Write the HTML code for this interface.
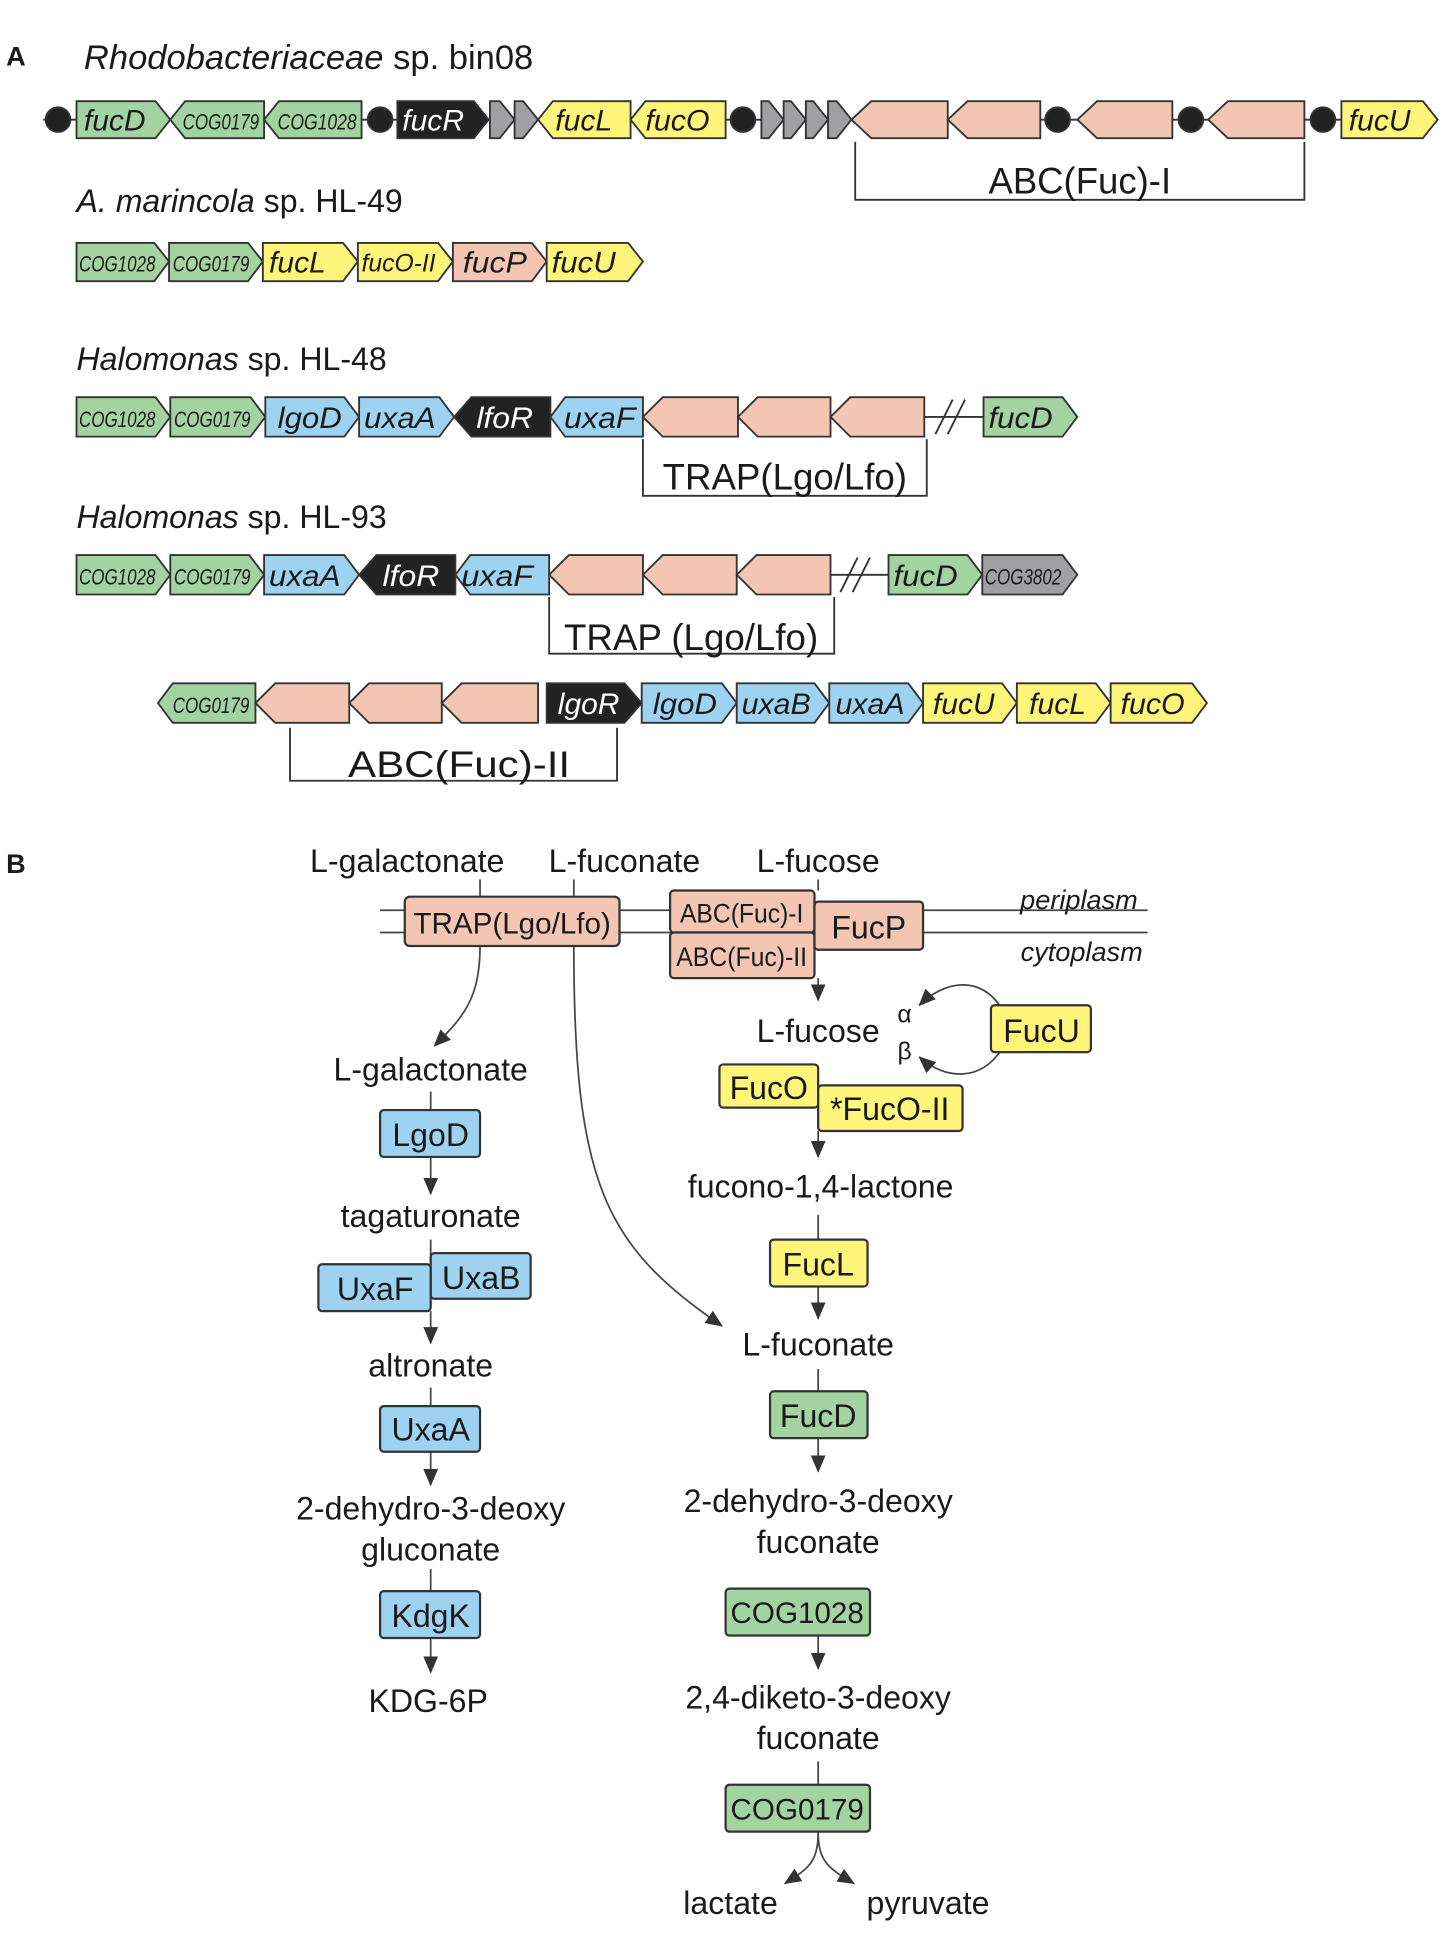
<!DOCTYPE html>
<html><head><meta charset="utf-8"><style>
html,body{margin:0;padding:0;background:#fff}
svg{display:block}
text{font-family:"Liberation Sans",sans-serif;fill:#1a1a1a}
.g{font-style:italic;font-size:24px}
.c{font-size:18px}
.t{font-size:26px}
</style></head><body>
<svg width="1450" height="1934" viewBox="0 0 1175 1568" preserveAspectRatio="none" xmlns="http://www.w3.org/2000/svg">
<defs><marker id="ah" viewBox="0 0 14 12" refX="13" refY="6" markerWidth="14" markerHeight="12" orient="auto" markerUnits="userSpaceOnUse"><path d="M0,0 L14,6 L0,12 z" fill="#333"/></marker></defs>
<g stroke="#333" stroke-width="1.5">
<line x1="35" y1="97" x2="1165" y2="97"/>
<g fill="#222"><circle cx="47" cy="97" r="10"/><circle cx="308" cy="97" r="10"/><circle cx="602" cy="97" r="10"/><circle cx="857" cy="97" r="10"/><circle cx="965" cy="97" r="10"/><circle cx="1072" cy="97" r="10"/></g>
<polygon fill="#a3d3a0" points="62,82 126,82 138,97 126,112 62,112"/>
<polygon fill="#a3d3a0" points="138,97 150,82 214,82 214,112 150,112"/>
<polygon fill="#a3d3a0" points="214,97 226,82 293,82 293,112 226,112"/>
<polygon fill="#222" points="322,82 384,82 396,97 384,112 322,112"/>
<polygon fill="#a0a0a4" points="397,82 405,82 417,97 405,112 397,112"/>
<polygon fill="#a0a0a4" points="417,82 424,82 436,97 424,112 417,112"/>
<polygon fill="#fff57a" points="436,97 448,82 511,82 511,112 448,112"/>
<polygon fill="#fff57a" points="511,97 523,82 588,82 588,112 523,112"/>
<polygon fill="#a0a0a4" points="617,82 623,82 635,97 623,112 617,112"/>
<polygon fill="#a0a0a4" points="635,82 641,82 653,97 641,112 635,112"/>
<polygon fill="#a0a0a4" points="653,82 659,82 671,97 659,112 653,112"/>
<polygon fill="#a0a0a4" points="671,82 678,82 690,97 678,112 671,112"/>
<polygon fill="#f2c6b2" points="690,97 706,82 768,82 768,112 706,112"/>
<polygon fill="#f2c6b2" points="768,97 784,82 843,82 843,112 784,112"/>
<polygon fill="#f2c6b2" points="873,97 889,82 950,82 950,112 889,112"/>
<polygon fill="#f2c6b2" points="979,97 995,82 1057,82 1057,112 995,112"/>
<polygon fill="#fff57a" points="1087,82 1153,82 1165,97 1153,112 1087,112"/>
<polyline fill="none" points="693,115 693,162 1057,162 1057,115"/>
<polygon fill="#a3d3a0" points="62,197 125,197 137,212 125,228 62,228"/>
<polygon fill="#a3d3a0" points="137,197 201,197 213,212 201,228 137,228"/>
<polygon fill="#fff57a" points="213,197 278,197 290,212 278,228 213,228"/>
<polygon fill="#fff57a" points="290,197 355,197 367,212 355,228 290,228"/>
<polygon fill="#f2c6b2" points="367,197 431,197 443,212 431,228 367,228"/>
<polygon fill="#fff57a" points="443,197 509,197 521,212 509,228 443,228"/>
<line x1="749" y1="338" x2="797" y2="338"/>
<line x1="758" y1="352" x2="772" y2="324"/><line x1="768" y1="352" x2="782" y2="324"/>
<polygon fill="#a3d3a0" points="62,322 126,322 138,338 126,354 62,354"/>
<polygon fill="#a3d3a0" points="138,322 203,322 215,338 203,354 138,354"/>
<polygon fill="#9dd3f0" points="215,322 279,322 291,338 279,354 215,354"/>
<polygon fill="#9dd3f0" points="291,322 356,322 368,338 356,354 291,354"/>
<polygon fill="#222" points="368,338 382,322 446,322 446,354 382,354"/>
<polygon fill="#9dd3f0" points="446,338 458,322 521,322 521,354 458,354"/>
<polygon fill="#f2c6b2" points="521,338 537,322 598,322 598,354 537,354"/>
<polygon fill="#f2c6b2" points="598,338 614,322 673,322 673,354 614,354"/>
<polygon fill="#f2c6b2" points="673,338 689,322 749,322 749,354 689,354"/>
<polygon fill="#a3d3a0" points="797,322 861,322 873,338 861,354 797,354"/>
<polyline fill="none" points="521,356 521,402 751,402 751,356"/>
<line x1="673" y1="466" x2="720" y2="466"/>
<line x1="681" y1="480" x2="695" y2="452"/><line x1="691" y1="480" x2="705" y2="452"/>
<polygon fill="#a3d3a0" points="62,450 126,450 138,466 126,482 62,482"/>
<polygon fill="#a3d3a0" points="138,450 202,450 214,466 202,482 138,482"/>
<polygon fill="#9dd3f0" points="214,450 279,450 291,466 279,482 214,482"/>
<polygon fill="#222" points="291,466 305,450 369,450 369,482 305,482"/>
<polygon fill="#9dd3f0" points="369,466 381,450 445,450 445,482 381,482"/>
<polygon fill="#f2c6b2" points="445,466 461,450 521,450 521,482 461,482"/>
<polygon fill="#f2c6b2" points="521,466 537,450 597,450 597,482 537,482"/>
<polygon fill="#f2c6b2" points="597,466 613,450 673,450 673,482 613,482"/>
<polygon fill="#a3d3a0" points="720,450 784,450 796,466 784,482 720,482"/>
<polygon fill="#a0a0a4" points="796,450 861,450 873,466 861,482 796,482"/>
<polyline fill="none" points="445,484 445,530 676,530 676,484"/>
<polygon fill="#a3d3a0" points="128,570 140,554 207,554 207,586 140,586"/>
<polygon fill="#f2c6b2" points="207,570 223,554 283,554 283,586 223,586"/>
<polygon fill="#f2c6b2" points="283,570 299,554 358,554 358,586 299,586"/>
<polygon fill="#f2c6b2" points="358,570 374,554 436,554 436,586 374,586"/>
<polygon fill="#222" points="443,554 506,554 520,570 506,586 443,586"/>
<polygon fill="#9dd3f0" points="520,554 585,554 597,570 585,586 520,586"/>
<polygon fill="#9dd3f0" points="597,554 660,554 672,570 660,586 597,586"/>
<polygon fill="#9dd3f0" points="672,554 736,554 748,570 736,586 672,586"/>
<polygon fill="#fff57a" points="748,554 812,554 824,570 812,586 748,586"/>
<polygon fill="#fff57a" points="824,554 888,554 900,570 888,586 824,586"/>
<polygon fill="#fff57a" points="900,554 966,554 978,570 966,586 900,586"/>
<polyline fill="none" points="235,590 235,633 500,633 500,590"/>
</g>
<text x="5" y="53" style="font-weight:bold;font-size:22px">A</text>
<text x="68" y="56" style="font-size:28px"><tspan font-style="italic">Rhodobacteriaceae</tspan> sp. bin08</text>
<text x="62" y="172" style="font-size:26px"><tspan font-style="italic">A. marincola</tspan> sp. HL-49</text>
<text x="62" y="300" style="font-size:26px"><tspan font-style="italic">Halomonas</tspan> sp. HL-48</text>
<text x="62" y="428" style="font-size:26px"><tspan font-style="italic">Halomonas</tspan> sp. HL-93</text>
<text x="875" y="157" text-anchor="middle" style="font-size:30px" textLength="148" lengthAdjust="spacingAndGlyphs">ABC(Fuc)-I</text>
<text x="636" y="397" text-anchor="middle" style="font-size:30px" textLength="198" lengthAdjust="spacingAndGlyphs">TRAP(Lgo/Lfo)</text>
<text x="560" y="527" text-anchor="middle" style="font-size:30px" textLength="206" lengthAdjust="spacingAndGlyphs">TRAP (Lgo/Lfo)</text>
<text x="372" y="630" text-anchor="middle" style="font-size:30px" textLength="180" lengthAdjust="spacingAndGlyphs">ABC(Fuc)-II</text>
<g class="g">
<text x="68" y="106" textLength="50" lengthAdjust="spacingAndGlyphs">fucD</text>
<text x="148" y="105" class="c" textLength="62" lengthAdjust="spacingAndGlyphs">COG0179</text>
<text x="225" y="105" class="c" textLength="64" lengthAdjust="spacingAndGlyphs">COG1028</text>
<text x="326" y="106" style="fill:#fff" textLength="50" lengthAdjust="spacingAndGlyphs">fucR</text>
<text x="450" y="106" textLength="46" lengthAdjust="spacingAndGlyphs">fucL</text>
<text x="523" y="106" textLength="52" lengthAdjust="spacingAndGlyphs">fucO</text>
<text x="1093" y="106" textLength="50" lengthAdjust="spacingAndGlyphs">fucU</text>
<text x="64" y="220" class="c" textLength="62" lengthAdjust="spacingAndGlyphs">COG1028</text>
<text x="140" y="220" class="c" textLength="62" lengthAdjust="spacingAndGlyphs">COG0179</text>
<text x="218" y="221" textLength="46" lengthAdjust="spacingAndGlyphs">fucL</text>
<text x="293" y="220" class="c" style="font-size:20px" textLength="60" lengthAdjust="spacingAndGlyphs">fucO-II</text>
<text x="375" y="221" textLength="52" lengthAdjust="spacingAndGlyphs">fucP</text>
<text x="447" y="221" textLength="52" lengthAdjust="spacingAndGlyphs">fucU</text>
<text x="64" y="346" class="c" textLength="62" lengthAdjust="spacingAndGlyphs">COG1028</text>
<text x="141" y="346" class="c" textLength="62" lengthAdjust="spacingAndGlyphs">COG0179</text>
<text x="225" y="347" textLength="52" lengthAdjust="spacingAndGlyphs">lgoD</text>
<text x="295" y="347" textLength="58" lengthAdjust="spacingAndGlyphs">uxaA</text>
<text x="386" y="347" style="fill:#fff" textLength="46" lengthAdjust="spacingAndGlyphs">lfoR</text>
<text x="457" y="347" textLength="58" lengthAdjust="spacingAndGlyphs">uxaF</text>
<text x="801" y="347" textLength="52" lengthAdjust="spacingAndGlyphs">fucD</text>
<text x="64" y="474" class="c" textLength="62" lengthAdjust="spacingAndGlyphs">COG1028</text>
<text x="141" y="474" class="c" textLength="62" lengthAdjust="spacingAndGlyphs">COG0179</text>
<text x="218" y="475" textLength="58" lengthAdjust="spacingAndGlyphs">uxaA</text>
<text x="310" y="475" style="fill:#fff" textLength="46" lengthAdjust="spacingAndGlyphs">lfoR</text>
<text x="374" y="475" textLength="58" lengthAdjust="spacingAndGlyphs">uxaF</text>
<text x="724" y="475" textLength="52" lengthAdjust="spacingAndGlyphs">fucD</text>
<text x="798" y="474" class="c" textLength="62" lengthAdjust="spacingAndGlyphs">COG3802</text>
<text x="140" y="578" class="c" textLength="62" lengthAdjust="spacingAndGlyphs">COG0179</text>
<text x="452" y="579" style="fill:#fff" textLength="50" lengthAdjust="spacingAndGlyphs">lgoR</text>
<text x="529" y="579" textLength="52" lengthAdjust="spacingAndGlyphs">lgoD</text>
<text x="601" y="579" textLength="56" lengthAdjust="spacingAndGlyphs">uxaB</text>
<text x="677" y="579" textLength="56" lengthAdjust="spacingAndGlyphs">uxaA</text>
<text x="756" y="579" textLength="50" lengthAdjust="spacingAndGlyphs">fucU</text>
<text x="834" y="579" textLength="46" lengthAdjust="spacingAndGlyphs">fucL</text>
<text x="908" y="579" textLength="52" lengthAdjust="spacingAndGlyphs">fucO</text>
</g>
<text x="5" y="708" style="font-weight:bold;font-size:22px">B</text>
<g stroke="#444" stroke-width="1.4" fill="none">
<line x1="308" y1="738" x2="930" y2="738"/><line x1="308" y1="756" x2="930" y2="756"/>
<line x1="389" y1="713" x2="389" y2="727"/><line x1="465" y1="713" x2="465" y2="727"/><line x1="663" y1="713" x2="663" y2="722"/>
<path d="M389,767 C389,810 375,825 352,848" marker-end="url(#ah)"/>
<path d="M465,767 C465,960 490,1010 585,1075" marker-end="url(#ah)"/>
<line x1="663" y1="793" x2="663" y2="811" marker-end="url(#ah)"/>
<path d="M812,818 C795,790 765,795 745,815" marker-end="url(#ah)"/>
<path d="M812,850 C795,878 765,875 745,857" marker-end="url(#ah)"/>
<line x1="663" y1="917" x2="663" y2="938" marker-end="url(#ah)"/>
<line x1="663" y1="985" x2="663" y2="1005"/>
<line x1="663" y1="1043" x2="663" y2="1069" marker-end="url(#ah)"/>
<line x1="663" y1="1110" x2="663" y2="1128"/>
<line x1="663" y1="1166" x2="663" y2="1193" marker-end="url(#ah)"/>
<line x1="663" y1="1326" x2="663" y2="1353" marker-end="url(#ah)"/>
<line x1="663" y1="1428" x2="663" y2="1447"/>
<path d="M663,1485 C663,1510 655,1515 636,1527" marker-end="url(#ah)"/>
<path d="M663,1485 C663,1510 672,1515 692,1527" marker-end="url(#ah)"/>
<line x1="349" y1="885" x2="349" y2="900"/>
<line x1="349" y1="938" x2="349" y2="968" marker-end="url(#ah)"/>
<line x1="349" y1="1005" x2="349" y2="1025"/>
<line x1="349" y1="1063" x2="349" y2="1089" marker-end="url(#ah)"/>
<line x1="349" y1="1125" x2="349" y2="1140"/>
<line x1="349" y1="1177" x2="349" y2="1204" marker-end="url(#ah)"/>
<line x1="349" y1="1272" x2="349" y2="1290"/>
<line x1="349" y1="1328" x2="349" y2="1356" marker-end="url(#ah)"/>
</g>
<g stroke="#333" stroke-width="1.8">
<rect x="328" y="727" width="174" height="40" rx="4" fill="#f2c6b2"/>
<rect x="543" y="722" width="117" height="34" rx="3" fill="#f2c6b2"/>
<rect x="543" y="756" width="117" height="37" rx="3" fill="#f2c6b2"/>
<rect x="660" y="731" width="88" height="39" rx="3" fill="#f2c6b2"/>
<rect x="803" y="815" width="81" height="38" rx="3" fill="#fff57a"/>
<rect x="583" y="863" width="80" height="35" rx="3" fill="#fff57a"/>
<rect x="663" y="880" width="117" height="37" rx="3" fill="#fff57a"/>
<rect x="624" y="1005" width="79" height="38" rx="3" fill="#fff57a"/>
<rect x="624" y="1128" width="79" height="38" rx="3" fill="#a3d3a0"/>
<rect x="588" y="1288" width="117" height="38" rx="3" fill="#a3d3a0"/>
<rect x="588" y="1447" width="117" height="38" rx="3" fill="#a3d3a0"/>
<rect x="308" y="900" width="81" height="38" rx="3" fill="#9dd3f0"/>
<rect x="349" y="1016" width="81" height="37" rx="3" fill="#9dd3f0"/>
<rect x="258" y="1025" width="91" height="38" rx="3" fill="#9dd3f0"/>
<rect x="308" y="1140" width="81" height="37" rx="3" fill="#9dd3f0"/>
<rect x="308" y="1290" width="81" height="38" rx="3" fill="#9dd3f0"/>
</g>
<g class="t" text-anchor="middle">
<text x="330" y="707">L-galactonate</text>
<text x="506" y="707">L-fuconate</text>
<text x="663" y="707">L-fucose</text>
<text x="415" y="757" style="font-size:24px" textLength="160" lengthAdjust="spacingAndGlyphs">TRAP(Lgo/Lfo)</text>
<text x="601" y="748" style="font-size:22px" textLength="100" lengthAdjust="spacingAndGlyphs">ABC(Fuc)-I</text>
<text x="601" y="783" style="font-size:22px" textLength="106" lengthAdjust="spacingAndGlyphs">ABC(Fuc)-II</text>
<text x="704" y="761">FucP</text>
<text x="663" y="845">L-fucose</text>
<text x="733" y="829" style="font-size:20px">α</text>
<text x="733" y="859" style="font-size:20px">β</text>
<text x="844" y="845">FucU</text>
<text x="623" y="891">FucO</text>
<text x="721" y="908">*FucO-II</text>
<text x="665" y="971">fucono-1,4-lactone</text>
<text x="663" y="1034">FucL</text>
<text x="663" y="1099">L-fuconate</text>
<text x="663" y="1157">FucD</text>
<text x="663" y="1226">2-dehydro-3-deoxy</text>
<text x="663" y="1259">fuconate</text>
<text x="646" y="1316" style="font-size:24px">COG1028</text>
<text x="663" y="1385">2,4-diketo-3-deoxy</text>
<text x="663" y="1418">fuconate</text>
<text x="646" y="1475" style="font-size:24px">COG0179</text>
<text x="592" y="1552">lactate</text>
<text x="752" y="1552">pyruvate</text>
<text x="349" y="876">L-galactonate</text>
<text x="349" y="929">LgoD</text>
<text x="349" y="995">tagaturonate</text>
<text x="390" y="1045">UxaB</text>
<text x="304" y="1054">UxaF</text>
<text x="349" y="1116">altronate</text>
<text x="349" y="1168">UxaA</text>
<text x="349" y="1232">2-dehydro-3-deoxy</text>
<text x="349" y="1265">gluconate</text>
<text x="349" y="1319">KdgK</text>
<text x="347" y="1388">KDG-6P</text>
</g>
<text x="922" y="737" text-anchor="end" style="font-style:italic;font-size:22px">periplasm</text>
<text x="926" y="779" text-anchor="end" style="font-style:italic;font-size:22px">cytoplasm</text>
</svg>
</body></html>
